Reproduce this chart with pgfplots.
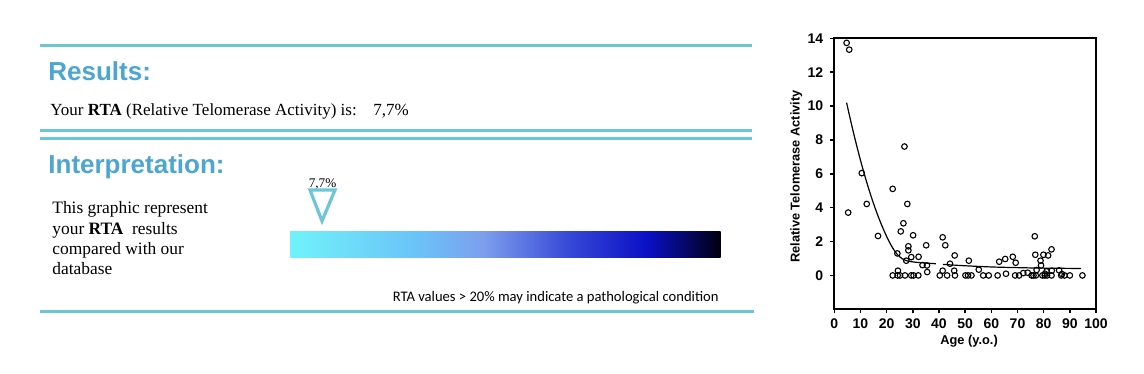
\documentclass[border=0pt]{standalone}
\usepackage{pgfplots}
\pgfplotsset{compat=1.18}
\usepackage{fontspec}
\setmainfont{Liberation Serif}
\setsansfont{Liberation Sans}
\newfontfamily\calibri{Carlito}
\definecolor{linecol}{RGB}{108,198,218}
\definecolor{titlecol}{RGB}{75,166,210}
\definecolor{tricol}{RGB}{108,197,216}
\pgfdeclarehorizontalshading{barshade}{100bp}{%
  rgb(0bp)=(0.44,0.95,0.98);
  rgb(25bp)=(0.44,0.95,0.98);
  rgb(40bp)=(0.42,0.76,0.97);
  rgb(47.5bp)=(0.49,0.62,0.93);
  rgb(57.5bp)=(0.21,0.28,0.84);
  rgb(66.5bp)=(0.04,0.06,0.77);
  rgb(75bp)=(0,0,0.06);
  rgb(100bp)=(0,0,0.06)}
\begin{document}
\begin{tikzpicture}
\begin{scope}[x=0.5pt,y=-0.5pt]
  % rules
  \draw[linecol, line width=1.5pt] (39.5,45.8) -- (752,45.8);
  \draw[linecol, line width=1.5pt] (39.5,130.8) -- (752,130.8);
  \draw[linecol, line width=1.5pt] (39.5,138.8) -- (752,138.8);
  \draw[linecol, line width=1.5pt] (39.5,311.7) -- (754,311.7);
  % headings
  \node[anchor=base west, inner sep=0pt, text=titlecol, font=\sffamily\bfseries\fontsize{13pt}{15pt}\selectfont] at (48,80.5) {Results:};
  \node[anchor=base west, inner sep=0pt, text=titlecol, font=\sffamily\bfseries\fontsize{13pt}{15pt}\selectfont] at (48,173.5) {Interpretation:};
  % result line
  \node[anchor=base west, inner sep=0pt, font=\fontsize{8.5pt}{10pt}\selectfont] at (50,116) {Your \textbf{RTA} (Relative Telomerase Activity) is:};
  \node[anchor=base west, inner sep=0pt, font=\fontsize{8.5pt}{10pt}\selectfont] at (373,116) {7,7\%};
  % left description
  \node[anchor=base west, inner sep=0pt, font=\fontsize{8.7pt}{10pt}\selectfont] at (52,213.3) {This graphic represent};
  \node[anchor=base west, inner sep=0pt, font=\fontsize{8.7pt}{10pt}\selectfont] at (52,234) {your \textbf{RTA}\ \ results};
  \node[anchor=base west, inner sep=0pt, font=\fontsize{8.7pt}{10pt}\selectfont] at (52,254) {compared with our};
  \node[anchor=base west, inner sep=0pt, font=\fontsize{8.7pt}{10pt}\selectfont] at (52,274.3) {database};
  % marker
  \node[anchor=base, inner sep=0pt, font=\fontsize{6.6pt}{8pt}\selectfont] at (322.5,187) {7,7\%};
  \draw[tricol, line width=1.6pt, line join=miter] (310,190) -- (335,190) -- (322,221) -- cycle;
  % gradient bar
  \shade[shading=barshade] (290,231.7) rectangle (720.5,257.5);
  % note
  \node[anchor=base east, inner sep=0pt, font=\calibri\fontsize{7.3pt}{9pt}\selectfont] at (719,301) {RTA values > 20\% may indicate a pathological condition};
\end{scope}
\begin{axis}[
  at={(417.15pt,-154.65pt)}, anchor=south west,
  scale only axis, width=130.85pt, height=135.5pt,
  xmin=0, xmax=100, ymin=-2, ymax=14,
  xtick={0,10,...,100}, ytick={0,2,...,14},
  tick align=outside, xtick pos=left, ytick pos=left,
  major tick length=2pt,
  axis line style={line width=0.9pt},
  every tick/.style={black, line width=0.7pt},
  /pgf/number format/assume math mode=true,
  ticklabel style={font=\sffamily\bfseries\fontsize{7pt}{8pt}\selectfont},
  xticklabel style={yshift=1pt},
  xlabel={Age (y.o.)}, ylabel={Relative Telomerase Activity},
  label style={font=\sffamily\bfseries\fontsize{6.4pt}{8pt}\selectfont},
  xlabel style={at={(axis description cs:0.515,-0.118)}, anchor=center},
  ylabel style={at={(axis description cs:-0.145,0.49)}, anchor=center},
  clip=false,
]
\addplot[only marks, mark=o, mark size=1.4pt, mark options={line width=0.55pt, black}] coordinates {
(4.7,13.73) (5.7,13.33) (5.3,3.71) (10.5,6.04) (12.4,4.22) (16.7,2.33)
(22.3,5.11) (26.8,7.61) (27.9,4.22) (26.4,3.08) (25.4,2.60) (30.1,2.37)
(24.1,1.30) (28.3,1.72) (28.3,1.48) (27.5,0.87) (29.4,1.08) (32.2,1.10)
(33.7,0.61) (35.1,1.78) (35.5,0.20) (35.4,0.59) (41.4,2.25) (42.4,1.78)
(44.2,0.69) (46.0,1.18) (41.4,0.28) (45.8,0.28) (51.4,0.87) (55.2,0.34)
(63.0,0.81) (65.3,0.97) (65.6,0.10) (68.2,1.10) (69.3,0.75) (76.6,2.31)
(76.8,1.22) (78.8,0.87) (79.0,0.59) (79.9,1.22) (81.7,1.18) (83.0,1.54)
(85.9,0.30) (83.1,0.28) (72.2,0.14) (73.9,0.16) (77.3,0.32) (81.1,0.24)
(24.3,0.28) (87.0,0.08) (80.5,0.10)
(22.3,0) (24.2,0) (25.1,0) (27.0,0) (29.4,0) (30.3,0) (32.1,0) (40.3,0)
(43.1,0) (46.1,0) (50.1,0) (51.1,0) (52.4,0) (56.9,0) (59.0,0) (62.4,0)
(69.1,0) (70.6,0) (75.4,0) (76.1,0) (77.0,0) (79.5,0) (80.4,0) (81.3,0)
(83.0,0) (86.7,0) (88.0,0) (90.0,0) (94.8,0)
};
\addplot[black, line width=0.6pt, smooth, no marks] coordinates {
(4.7,10.2) (6,9.3) (8,8.0) (10,6.8) (12,5.7) (14,4.7) (16,3.8) (18,3.0)
(20,2.3) (22,1.7) (24,1.25) (26,0.98) (28,0.85) (31,0.78) (34,0.74) (38.8,0.69)
};
\addplot[black, line width=0.6pt, smooth, no marks] coordinates {
(41.5,0.65) (50,0.57) (60,0.50) (70,0.46) (80,0.43) (94.3,0.41)
};
\end{axis}
\pgfresetboundingbox
\path[use as bounding box] (0,0) rectangle (572pt,-187pt);
\end{tikzpicture}
\end{document}
